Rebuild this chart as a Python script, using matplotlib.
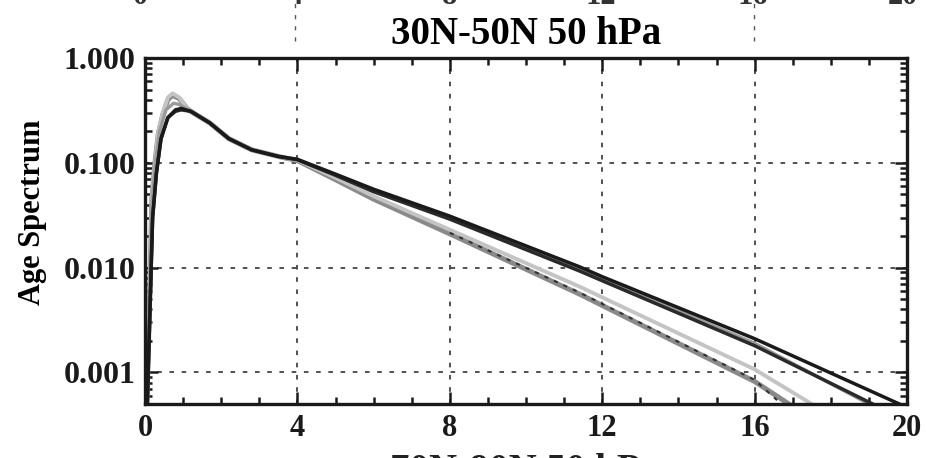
import matplotlib.pyplot as plt
from matplotlib.ticker import MultipleLocator, LogLocator, FixedLocator, NullFormatter
from matplotlib.lines import Line2D

# serif bold everywhere, like the scanned figure
plt.rcParams['font.family'] = ['Liberation Serif', 'DejaVu Serif']
plt.rcParams['font.weight'] = 'bold'

# values (age in years, spectrum)
# dark line 1 (top, ends at ~19.8)
dark1_x = [0.06, 0.13, 0.2, 0.3, 0.42, 0.6, 0.8, 0.95, 1.2, 1.7, 2.2, 2.8, 3.5, 4.0, 5.0, 6.0, 8.0, 11.4, 12.0, 16.0, 19.8]
dark1_y = [0.0005, 0.004, 0.03, 0.08, 0.17, 0.27, 0.32, 0.33, 0.31, 0.24, 0.17, 0.133, 0.115, 0.108, 0.078, 0.056, 0.031, 0.0102, 0.0082, 0.0021, 0.0005]
# dark line 2 (just below, ends at ~19.1)
dark2_x = [0.06, 0.13, 0.2, 0.3, 0.42, 0.6, 0.8, 0.95, 1.2, 1.7, 2.2, 2.8, 3.5, 4.0, 5.0, 6.0, 8.0, 11.4, 12.0, 16.0, 19.1]
dark2_y = [0.0005, 0.004, 0.03, 0.08, 0.17, 0.27, 0.31, 0.32, 0.31, 0.24, 0.17, 0.133, 0.115, 0.107, 0.076, 0.053, 0.029, 0.0093, 0.0075, 0.0018, 0.0005]
# gray line running with the dark pair
gray_x = [0.05, 0.12, 0.18, 0.27, 0.38, 0.55, 0.75, 0.9, 1.2, 1.7, 2.2, 2.8, 3.5, 4.0, 5.0, 6.0, 8.0, 11.4, 16.0, 19.0]
gray_y = [0.0005, 0.005, 0.04, 0.1, 0.2, 0.32, 0.37, 0.36, 0.31, 0.24, 0.17, 0.133, 0.115, 0.107, 0.076, 0.054, 0.030, 0.0097, 0.0019, 0.0005]
# light gray (lower group, ends at ~17.5)
light_x = [0.05, 0.12, 0.18, 0.26, 0.35, 0.47, 0.6, 0.72, 0.9, 1.1, 1.2, 1.7, 2.2, 2.8, 3.5, 4.0, 5.0, 6.0, 8.0, 11.4, 16.0, 17.5]
light_y = [0.0005, 0.005, 0.047, 0.10, 0.20, 0.30, 0.42, 0.46, 0.42, 0.33, 0.31, 0.24, 0.17, 0.133, 0.115, 0.106, 0.072, 0.048, 0.023, 0.0066, 0.00107, 0.0005]
# medium gray thick (lowest, ends at ~16.9)
mid_x = [0.05, 0.12, 0.18, 0.26, 0.35, 0.47, 0.6, 0.72, 0.9, 1.1, 1.2, 1.7, 2.2, 2.8, 3.5, 4.0, 5.0, 6.0, 8.0, 11.4, 16.0, 16.9]
mid_y = [0.0005, 0.005, 0.045, 0.10, 0.19, 0.29, 0.40, 0.44, 0.41, 0.33, 0.31, 0.24, 0.17, 0.133, 0.115, 0.105, 0.069, 0.045, 0.021, 0.0056, 0.00082, 0.0005]
# dark dashed line along the lowest one
dash_x = [8.0, 11.4, 16.0, 16.7]
dash_y = [0.0215, 0.0058, 0.00085, 0.0005]

xticks = [0, 4, 8, 12, 16, 20]
yticks = [0.001, 0.01, 0.1, 1.0]
ytick_labels = ['0.001', '0.010', '0.100', '1.000']

fig = plt.figure(figsize=(9.26, 4.58), dpi=100)
ax = fig.add_axes([0.1566, 0.1179, 0.8229, 0.7555])

ax.semilogy(mid_x, mid_y, color='#8a8a8a', lw=3.6, solid_joinstyle='round')
ax.semilogy(light_x, light_y, color='#c4c4c4', lw=2.8)
ax.semilogy(dash_x, dash_y, color='#333333', lw=1.5, ls=(0, (2, 3)))
ax.semilogy(gray_x, gray_y, color='#9a9a9a', lw=2.4)
ax.semilogy(dark2_x, dark2_y, color='#2a2a2a', lw=2.5)
ax.semilogy(dark1_x, dark1_y, color='#1a1a1a', lw=2.5)

ax.set_xlim(0, 20)
ax.set_ylim(0.0005, 1.0)

ax.xaxis.set_major_locator(FixedLocator(xticks))
ax.xaxis.set_minor_locator(MultipleLocator(1))
ax.yaxis.set_major_locator(FixedLocator(yticks))
ax.yaxis.set_minor_locator(LogLocator(base=10, subs=range(2, 10)))
ax.yaxis.set_minor_formatter(NullFormatter())
ax.set_xticklabels([str(t) for t in xticks])
ax.set_yticklabels(ytick_labels)

ax.tick_params(which='both', direction='in', top=True, right=True, width=1.8, colors='#1a1a1a')
ax.tick_params(which='major', length=9, pad=7)
ax.tick_params(which='minor', length=5)
ax.tick_params(axis='x', labelsize=22)
ax.tick_params(axis='y', labelsize=23)
for s in ax.spines.values():
    s.set_linewidth(2.4)
    s.set_color('#1a1a1a')

ax.grid(True, which='major', color='#222222', lw=1.1, ls=(0, (3, 5)))

ax.set_ylabel('Age Spectrum', fontsize=22, fontweight='bold')
ax.yaxis.set_label_coords(-0.128, 0.555)
ax.set_title('30N-50N 50 hPa', fontsize=28, fontweight='bold', pad=10)

# bits of the neighbouring panels caught in the scan
for t, xp in zip(xticks, [0.152, 0.319, 0.486, 0.649, 0.813, 0.975]):
    fig.text(xp, 1 - 4 / 458, str(t), ha='center', va='baseline', fontsize=22, fontweight='bold', color='#333333')
fig.text(0.567, 1 - 481 / 458, '70N-90N 50 hPa', ha='center', va='baseline', fontsize=28, fontweight='bold', color='#222222')
for xp in [0.319, 0.814]:
    fig.add_artist(Line2D([xp, xp], [0.91, 1.0], color='#555555', lw=1, ls=(0, (3, 5))))

fig.savefig('out.png', dpi=100)
